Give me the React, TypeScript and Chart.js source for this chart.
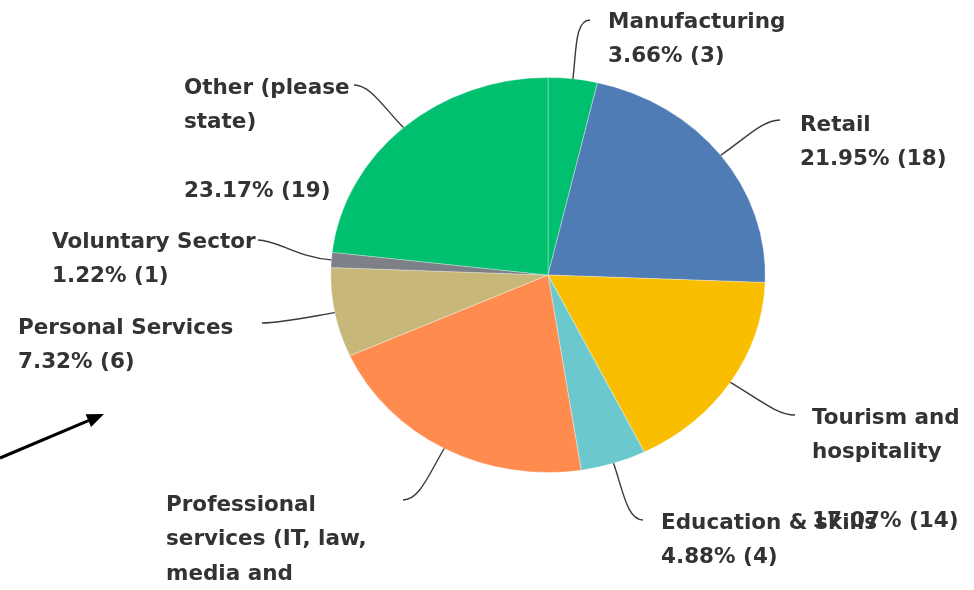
import React, { useEffect, useRef } from "react";
import { Chart, registerables } from "chart.js";

Chart.register(...registerables);

// ---- data ----
const categories = [
  "Manufacturing",
  "Retail",
  "Tourism and hospitality",
  "Education & skills",
  "Professional services (IT, law, media and entertainment)",
  "Personal Services",
  "Voluntary Sector",
  "Other (please state)",
];
const counts = [3, 18, 14, 4, 17, 6, 1, 19];
const colors = ["#00bf6f", "#507cb6", "#f9be00", "#6bc8cd", "#ff8b4f", "#c7b879", "#7d8087", "#00bf6f"];

// ---- layout (positions only) ----
const labelPos = [
  [608, 22], [800, 125], [812, 418], [661, 523],
  [166, 505], [18, 328], [52, 242], [184, 88],
];
const leaderEnd = [
  [590, 20], [780, 120], [795, 415], [643, 520],
  [403, 500], [262, 323], [258, 240], [354, 85],
];
const wrapWidth = [Infinity, Infinity, 160, Infinity, 220, Infinity, Infinity, 180];
const PIE_SCALE_X = 1.1;
const LINE_H = 34.5;
const FONT = 'bold 21.5px "DejaVu Sans"';

function wrap(ctx: CanvasRenderingContext2D, text: string, max: number): string[] {
  const words = text.split(" ");
  const lines: string[] = [];
  let cur = "";
  for (const w of words) {
    const t = cur ? cur + " " + w : w;
    if (cur && ctx.measureText(t).width > max) {
      lines.push(cur);
      cur = w;
    } else cur = t;
  }
  if (cur) lines.push(cur);
  return lines;
}

const pieLabelsPlugin = {
  id: "pieLabels",
  beforeDatasetsDraw(chart: any) {
    const a = chart.getDatasetMeta(0).data[0];
    const ctx = chart.ctx;
    ctx.save();
    ctx.translate(a.x, a.y);
    ctx.scale(PIE_SCALE_X, 1);
    ctx.translate(-a.x, -a.y);
  },
  afterDatasetsDraw(chart: any) {
    chart.ctx.restore();
  },
  afterDraw(chart: any) {
    const ctx: CanvasRenderingContext2D = chart.ctx;
    const arcs = chart.getDatasetMeta(0).data;
    const total = counts.reduce((s, v) => s + v, 0);
    ctx.save();
    ctx.font = FONT;
    ctx.textBaseline = "middle";
    ctx.textAlign = "left";
    arcs.forEach((arc: any, i: number) => {
      const mid = (arc.startAngle + arc.endAngle) / 2;
      const r = arc.outerRadius;
      const sx = arc.x + Math.cos(mid) * r * PIE_SCALE_X;
      const sy = arc.y + Math.sin(mid) * r;
      let dx = Math.cos(mid) * PIE_SCALE_X, dy = Math.sin(mid);
      const dl = Math.hypot(dx, dy);
      dx /= dl; dy /= dl;
      const [ex, ey] = leaderEnd[i];
      const [lx] = labelPos[i];
      const hdir = lx > ex ? -1 : 1;
      const dist = Math.hypot(ex - sx, ey - sy);
      ctx.strokeStyle = "#3a3a3a";
      ctx.lineWidth = 1.4;
      ctx.beginPath();
      ctx.moveTo(sx, sy);
      ctx.bezierCurveTo(sx + dx * dist * 0.45, sy + dy * dist * 0.45, ex + hdir * dist * 0.25, ey, ex, ey);
      ctx.stroke();

      const pct = ((counts[i] / total) * 100).toFixed(2) + "% (" + counts[i] + ")";
      const nameLines = wrap(ctx, categories[i], wrapWidth[i]);
      const lines = nameLines.length > 1 ? [...nameLines, "", pct] : [...nameLines, pct];
      ctx.fillStyle = "#333";
      lines.forEach((t, k) => {
        if (t) ctx.fillText(t, labelPos[i][0], labelPos[i][1] + k * LINE_H);
      });
    });

    // annotation arrow
    const x0 = 0, y0 = 458, x1 = 104, y1 = 414;
    const ang = Math.atan2(y1 - y0, x1 - x0);
    const hl = 17, hw = 7;
    const bx = x1 - Math.cos(ang) * hl, by = y1 - Math.sin(ang) * hl;
    ctx.strokeStyle = "#000";
    ctx.fillStyle = "#000";
    ctx.lineWidth = 3;
    ctx.beginPath();
    ctx.moveTo(x0, y0);
    ctx.lineTo(bx + Math.cos(ang) * 2, by + Math.sin(ang) * 2);
    ctx.stroke();
    ctx.beginPath();
    ctx.moveTo(x1, y1);
    ctx.lineTo(bx - Math.sin(ang) * hw, by + Math.cos(ang) * hw);
    ctx.lineTo(bx + Math.sin(ang) * hw, by - Math.cos(ang) * hw);
    ctx.closePath();
    ctx.fill();
    ctx.restore();
  },
};

export default function App() {
  const ref = useRef<HTMLCanvasElement | null>(null);
  useEffect(() => {
    if (!ref.current) return;
    const chart = new Chart(ref.current, {
      type: "pie",
      data: {
        labels: categories,
        datasets: [
          {
            data: counts,
            backgroundColor: colors,
            borderColor: "rgba(255,255,255,0.3)",
            borderWidth: 1,
            clip: false as any,
          },
        ],
      },
      options: {
        responsive: false,
        animation: false,
        layout: { padding: { left: 320, right: 198, top: 77, bottom: 117 } },
        plugins: { legend: { display: false }, tooltip: { enabled: false } },
      },
      plugins: [pieLabelsPlugin],
    });
    return () => chart.destroy();
  }, []);
  return (
    <div style={{ position: "absolute", left: 0, top: 0, width: 974, height: 590, background: "#fff" }}>
      <canvas ref={ref} width={974} height={590} style={{ display: "block" }} />
    </div>
  );
}
